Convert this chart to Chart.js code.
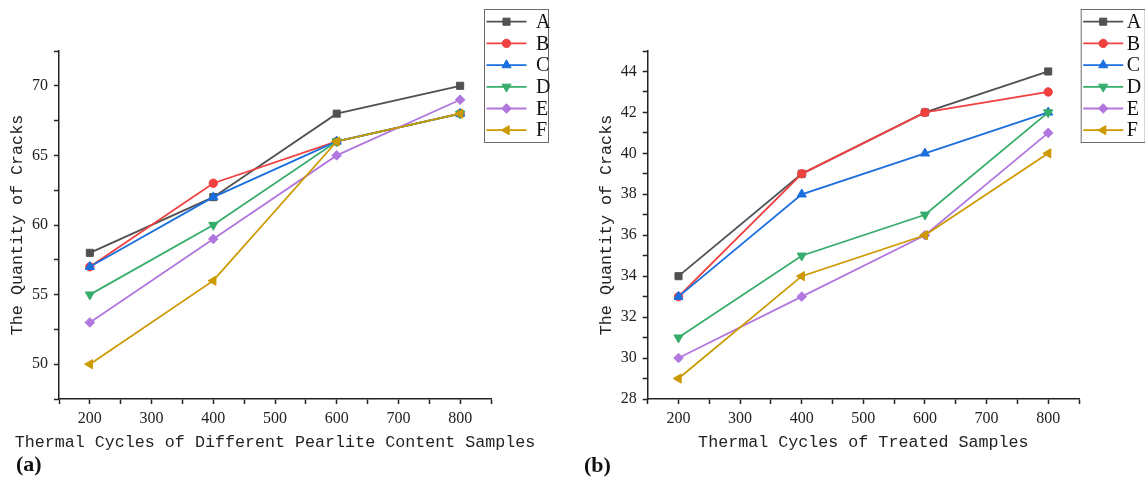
<!DOCTYPE html>
<html>
<head>
<meta charset="utf-8">
<script src="https://cdn.jsdelivr.net/npm/chart.js"></script>
<style>
  body { margin: 0; background: #fff; width: 1145px; height: 483px; position: relative; overflow: hidden; }
  canvas { position: absolute; top: 0; }
  #chartA { left: 0; }
  #chartB { left: 572px; }
  .panel-tag { position: absolute; font: bold 22px "Liberation Serif", serif; color: #111; line-height: 1; }
</style>
</head>
<body>
<canvas id="chartA" width="572" height="483"></canvas>
<canvas id="chartB" width="573" height="483"></canvas>
<div class="panel-tag" style="left:16px; top:453px">(a)</div>
<div class="panel-tag" style="left:584px; top:454px">(b)</div>
<script>
// x positions (thermal cycles) shared by both panels
const cycles = [200, 400, 600, 800];
const seriesNames = ['A', 'B', 'C', 'D', 'E', 'F'];

// (a) different pearlite content samples
const pearliteA = [58, 62, 68, 70];
const pearliteB = [57, 63, 66, 68];
const pearliteC = [57, 62, 66, 68];
const pearliteD = [55, 60, 66, 68];
const pearliteE = [53, 59, 65, 69];
const pearliteF = [50, 56, 66, 68];

// (b) treated samples
const treatedA = [34, 39, 42, 44];
const treatedB = [33, 39, 42, 43];
const treatedC = [33, 38, 40, 42];
const treatedD = [31, 35, 37, 42];
const treatedE = [30, 33, 36, 41];
const treatedF = [29, 34, 36, 40];

// labelled ticks
const xTickLabels = [200, 300, 400, 500, 600, 700, 800];
const yTickLabelsA = [50, 55, 60, 65, 70];
const yTickLabelsB = [28, 30, 32, 34, 36, 38, 40, 42, 44];

const colors = ['#515151', '#F14040', '#1A6FDF', '#37AD6B', '#B177DE', '#CC9900'];
const markers = ['rect', 'circle', 'triangle', 'triangle', 'rectRot', 'triangle'];
const rotations = [0, 0, 0, 180, 0, 270];
const markerRadius = [5, 4.2, 5.3, 5.3, 4.8, 5.3];

const ink = '#222';
const tickFont = { family: '"Liberation Serif", serif', size: 16 };
const titleFont = { family: '"Liberation Mono", monospace', size: 16.7 };

// boxed legend drawn at a fixed spot, outside the plot like the original
const boxLegend = {
    id: 'boxLegend',
    afterDraw(chart, args, opts) {
        const ctx = chart.ctx;
        ctx.save();
        ctx.strokeStyle = '#6b6b6b';
        ctx.lineWidth = 1;
        ctx.strokeRect(opts.x + 0.5, opts.y + 0.5, opts.w, opts.h);
        chart.data.datasets.forEach((ds, i) => {
            const y = opts.y + 12.7 + i * 21.7;
            ctx.strokeStyle = ds.borderColor;
            ctx.lineWidth = ds.borderWidth;
            ctx.beginPath();
            ctx.moveTo(opts.x + 2.5, y);
            ctx.lineTo(opts.x + 42.5, y);
            ctx.stroke();
            ctx.fillStyle = ds.borderColor;
            ctx.lineWidth = 1;
            Chart.helpers.drawPoint(ctx, {
                pointStyle: ds.pointStyle,
                rotation: ds.pointRotation,
                radius: ds.pointRadius,
                borderWidth: 1
            }, opts.x + 22.5, y);
            ctx.fillStyle = '#111';
            ctx.font = '20px "Liberation Serif", serif';
            ctx.textBaseline = 'middle';
            ctx.fillText(ds.label, opts.x + opts.textX, y + 1);
        });
        ctx.restore();
    }
};

// x axis caption, allowed to run wider than the axis itself
const xCaption = {
    id: 'xCaption',
    afterDraw(chart, args, opts) {
        const ctx = chart.ctx;
        const sx = chart.scales.x;
        ctx.save();
        ctx.fillStyle = ink;
        ctx.font = titleFont.size + 'px ' + titleFont.family;
        ctx.textAlign = 'center';
        ctx.textBaseline = 'middle';
        ctx.fillText(opts.text, (sx.left + sx.right) / 2, opts.y);
        ctx.restore();
    }
};

function buildDatasets(seriesList) {
    return seriesList.map((values, i) => ({
        label: seriesNames[i],
        data: values.map((v, j) => ({ x: cycles[j], y: v })),
        borderColor: colors[i],
        backgroundColor: colors[i],
        borderWidth: 1.8,
        pointStyle: markers[i],
        pointRotation: rotations[i],
        pointRadius: markerRadius[i],
        pointBorderWidth: 1,
        order: seriesList.length - i
    }));
}

function axisGrid() {
    return {
        display: true,
        drawOnChartArea: false,
        drawTicks: true,
        tickLength: 5,
        color: ink,
        tickColor: ink,
        tickWidth: 1.5
    };
}

function makeChart(id, seriesList, yMin, yMax, yStep, yLabels, xTitle, padding, legendOpts) {
    const ctx = document.getElementById(id).getContext('2d');
    return new Chart(ctx, {
        type: 'line',
        data: { datasets: buildDatasets(seriesList) },
        plugins: [boxLegend, xCaption],
        options: {
            responsive: false,
            animation: false,
            devicePixelRatio: 1,
            events: [],
            layout: { padding: padding },
            plugins: {
                legend: { display: false },
                tooltip: { enabled: false },
                boxLegend: legendOpts,
                xCaption: { text: xTitle, y: 443 }
            },
            scales: {
                x: {
                    type: 'linear',
                    min: 150,
                    max: 850,
                    grid: axisGrid(),
                    border: { display: true, color: ink, width: 1.5 },
                    ticks: {
                        stepSize: 50,
                        autoSkip: false,
                        maxRotation: 0,
                        padding: 5,
                        color: ink,
                        font: tickFont,
                        callback: v => xTickLabels.includes(v) ? String(v) : ''
                    },
                    title: { display: false },
                    afterFit(scale) { scale.height = 60; }
                },
                y: {
                    min: yMin,
                    max: yMax,
                    grid: axisGrid(),
                    border: { display: true, color: ink, width: 1.5 },
                    ticks: {
                        stepSize: yStep,
                        autoSkip: false,
                        padding: 6,
                        color: ink,
                        font: tickFont,
                        callback: v => yLabels.includes(v) ? String(v) : ''
                    },
                    title: {
                        display: true,
                        text: 'The Quantity of Cracks',
                        color: ink,
                        font: titleFont,
                        padding: { top: 8, bottom: 0 }
                    },
                    afterFit(scale) { scale.width = 59; }
                }
            }
        }
    });
}

window.onload = function() {
    makeChart('chartA',
        [pearliteA, pearliteB, pearliteC, pearliteD, pearliteE, pearliteF],
        47.5, 72.5, 2.5, yTickLabelsA,
        'Thermal Cycles of Different Pearlite Content Samples',
        { left: 0, top: 51, right: 81, bottom: 24 },
        { x: 484, y: 9, w: 64, h: 133, textX: 52 });

    makeChart('chartB',
        [treatedA, treatedB, treatedC, treatedD, treatedE, treatedF],
        28, 45, 1, yTickLabelsB,
        'Thermal Cycles of Treated Samples',
        { left: 16.7, top: 51, right: 66, bottom: 24 },
        { x: 508.7, y: 9, w: 64, h: 133, textX: 46 });
};
</script>
</body>
</html>
